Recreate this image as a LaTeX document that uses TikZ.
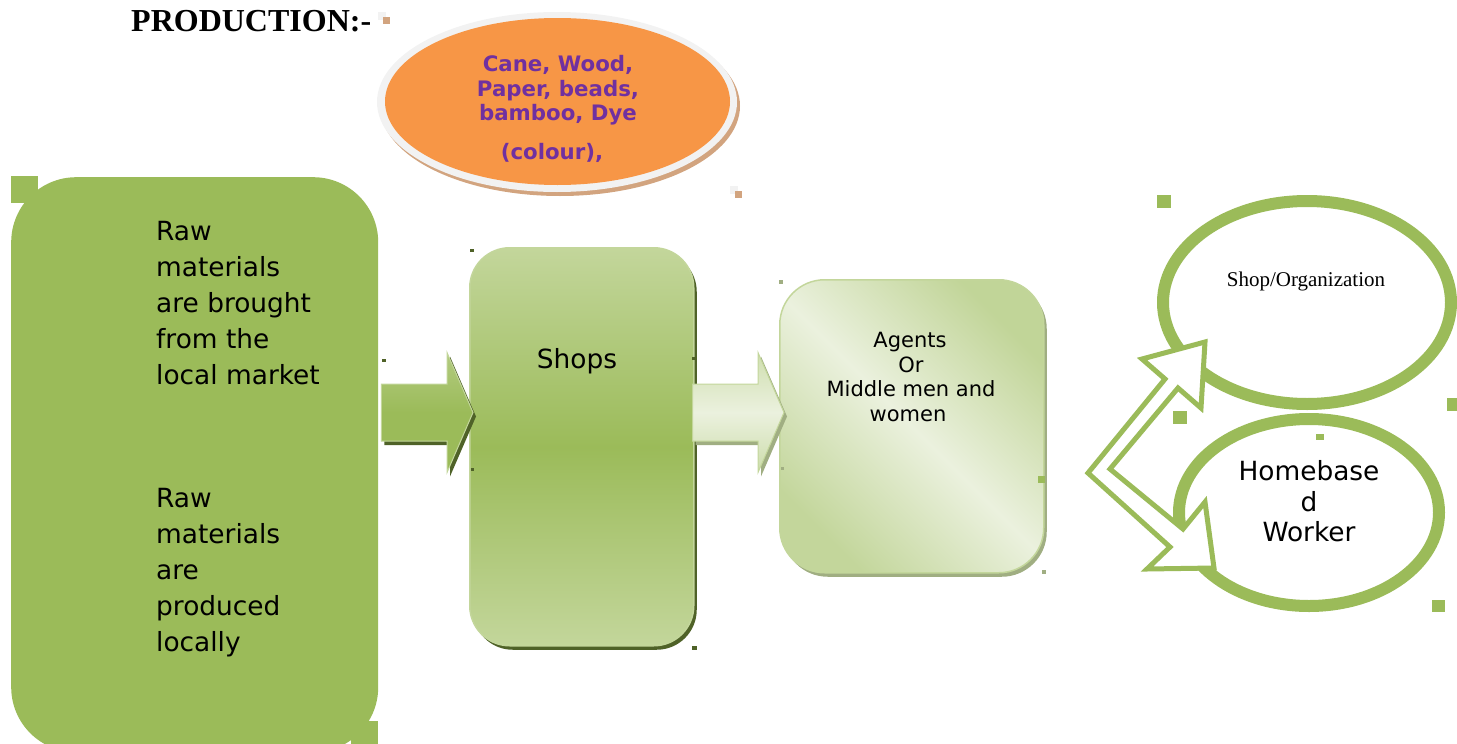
\documentclass[tikz,border=0pt]{standalone}
\usepackage{fontspec}
\setmainfont{DejaVu Sans}
\newfontfamily\serifface{Liberation Serif}
\usetikzlibrary{calc,shadows,shapes.geometric}

\definecolor{leaf}{HTML}{9BBB59}
\definecolor{leaflight}{HTML}{C3D69B}
\definecolor{leafpale}{HTML}{EBF1DE}
\definecolor{leafdark}{HTML}{4F6228}
\definecolor{leafgrey}{HTML}{A0AE82}
\definecolor{clay}{HTML}{F79646}
\definecolor{claydark}{HTML}{D2A47F}
\definecolor{ringgrey}{HTML}{F2F2F2}
\definecolor{matviolet}{HTML}{7030A0}

\tikzset{
  bodytext/.style={font=\fontsize{26.4}{36}\selectfont, inner sep=0, anchor=base west},
  centretext/.style={font=\fontsize{26.4}{36}\selectfont, inner sep=0, anchor=base},
  agenttext/.style={font=\fontsize{21}{24.5}\selectfont, inner sep=0, anchor=base},
  mattext/.style={font=\bfseries\fontsize{21.3}{24.5}\selectfont, text=matviolet, inner sep=0, anchor=base},
  handle/.style={fill=leaf},
  speck/.style={fill=leafdark},
  ringnode/.style={ellipse, draw=leaf, line width=12, fill=white, inner sep=0},
  blockarrow/.style 2 args={insert path={
    ($(#1)+(0,-28.5)$) -- ($(#2)+(-26,-28.5)$) -- ($(#2)+(-26,-60)$) -- (#2)
    -- ($(#2)+(-26,60)$) -- ($(#2)+(-26,28.5)$) -- ($(#1)+(0,28.5)$) -- cycle}},
}

\begin{document}
\begin{tikzpicture}[x=1pt,y=-1pt]
\useasboundingbox (0,0) rectangle (1457,744);

% heading
\node[font=\serifface\bfseries\fontsize{32}{36}\selectfont, inner sep=0, anchor=base west]
  (title) at (131,31) {PRODUCTION:-};

% raw material ellipse with its rim and shadow
\fill[claydark] (560,106) ellipse [x radius=180, y radius=90];
\fill[ringgrey] (557,102) ellipse [x radius=180, y radius=90];
\node[ellipse, fill=clay, minimum width=345, minimum height=167, inner sep=0]
  (materials) at (557.5,101.5) {};
\node[mattext] (m1) at (558,71.5) {Cane, Wood,};
\node[mattext] (m2) at (558,96) {Paper, beads,};
\node[mattext] (m3) at (558,120.5) {bamboo, Dye};
\node[mattext] (m4) at (552,159.5) {(colour),};
% frame handles of the ellipse
\fill[ringgrey] (378,12) rectangle (386,20);
\fill[claydark] (383,17) rectangle (390,24);
\fill[ringgrey] (730,186) rectangle (738,194);
\fill[claydark] (735,191) rectangle (742,198);

% source box
\node[fill=leaf, rounded corners=65, minimum width=367, minimum height=575,
  anchor=north west, inner sep=0] (sourcebox) at (11,177) {};
\fill[handle] (11,176) rectangle (38,203);
\fill[handle] (351,721) rectangle (378,744);

\node[bodytext] at (156,240.5) {Raw};
\node[bodytext] at (156,276.5) {materials};
\node[bodytext] at (156,312.5) {are brought};
\node[bodytext] at (156,348.5) {from the};
\node[bodytext] at (156,384.5) {local market};

\node[bodytext] at (156,507.5) {Raw};
\node[bodytext] at (156,543.5) {materials};
\node[bodytext] at (156,579.5) {are};
\node[bodytext] at (156,615.5) {produced};
\node[bodytext] at (156,651) {locally};

% shops
\node[anchor=north west, minimum width=224, minimum height=398, rounded corners=40,
  draw=leaflight, line width=1.5, inner sep=0,
  top color=leaflight, bottom color=leaflight, middle color=leaf,
  drop shadow={shadow xshift=3pt, shadow yshift=-4pt, fill=leafdark, opacity=1}]
  (shops) at (469,247) {};
\node[centretext] at (577,368.5) {Shops};

% agents
\node[anchor=north west, minimum width=264, minimum height=293, rounded corners=45,
  draw=leaflight, line width=1.5, inner sep=0,
  top color=leaflight!95!leaf, bottom color=leaflight, middle color=leafpale,
  shading angle=-45,
  drop shadow={shadow xshift=3pt, shadow yshift=-4pt, fill=leafgrey, opacity=1}]
  (agents) at (779,279) {};
\node[agenttext] at (910,347.5) {Agents};
\node[agenttext] at (911,372) {Or};
\node[agenttext] at (911,396.5) {Middle men and};
\node[agenttext] at (908,421) {women};
\fill[handle] (1038,476) rectangle (1045,483);

% block arrows between the boxes
\coordinate (row) at (0,412.5);
\coordinate (a1from) at ($(sourcebox.east |- row)+(3,0)$);
\coordinate (a1to) at ($(shops.west |- row)+(4,0)$);
\coordinate (a2from) at ($(shops.east |- row)+(-2,0)$);
\coordinate (a2to) at ($(agents.west |- row)+(5,0)$);

\fill[leafdark, transform canvas={xshift=3pt, yshift=-4pt}, blockarrow={a1from}{a1to}];
\path[draw=leaflight, line width=1, top color=leaflight!60!leaf, bottom color=leaf,
  middle color=leaf, blockarrow={a1from}{a1to}];

\fill[leafgrey, transform canvas={xshift=3pt, yshift=-4pt}, blockarrow={a2from}{a2to}];
\path[draw=leaflight, line width=1, top color=leaflight!80!white, bottom color=leaflight!85!white,
  middle color=leafpale, blockarrow={a2from}{a2to}];

% small specks
\fill[speck] (470,249) rectangle (474,252);
\fill[speck] (382,359) rectangle (386,362);
\fill[speck] (471,468) rectangle (474,471);
\fill[speck] (692,357) rectangle (696,360);
\fill[speck] (692,646) rectangle (697,650);
\fill[leafgrey] (779,280) rectangle (783,284);
\fill[leafgrey] (781,467) rectangle (784,470);
\fill[leafgrey] (1042,570) rectangle (1046,574);

% destination ellipses
\node[ringnode, minimum width=260, minimum height=187] (homeworker) at (1309,512.5) {};
\node[ringnode, minimum width=288, minimum height=203] (shoporg) at (1307,302.5) {};

% two-headed bent arrow
\draw[leaf, line width=5, fill=white, line join=miter]
  (1088,473) -- (1165,379) -- (1142,359) -- (1205,342) -- (1201,408) -- (1178,388)
  -- (1110,469) -- (1183,529) -- (1205,502) -- (1214,568) -- (1147,569) -- (1170,547) -- cycle;

\node[font=\serifface\fontsize{21}{24}\selectfont, inner sep=0, anchor=base]
  at (1306,286) {Shop/Organization};
\node[centretext] at (1309,480.5) {Homebase};
\node[centretext] at (1309,511.5) {d};
\node[centretext] at (1309,541.5) {Worker};

% frame handles on the right
\fill[handle] (1157,195) rectangle (1171,208);
\fill[handle] (1173,411) rectangle (1187,424);
\fill[handle] (1447,398) rectangle (1457,411);
\fill[handle] (1316,434) rectangle (1324,440);
\fill[handle] (1432,600) rectangle (1445,612);
\end{tikzpicture}
\end{document}
